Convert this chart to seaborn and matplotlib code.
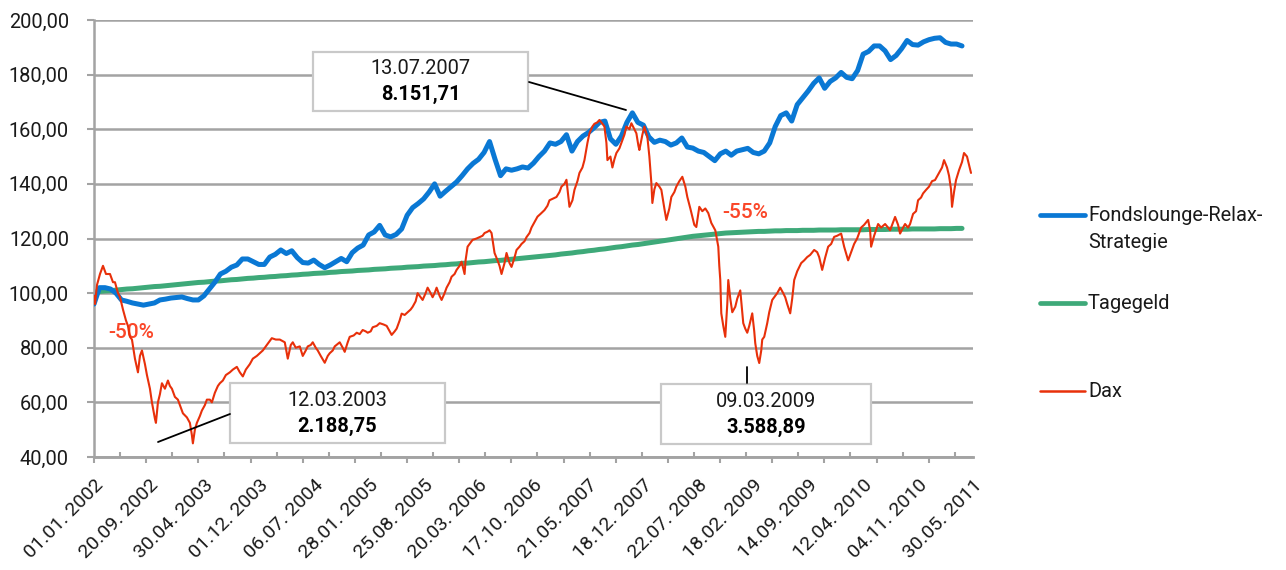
import numpy as np
import pandas as pd
import matplotlib
matplotlib.use("Agg")
import matplotlib.pyplot as plt
import seaborn as sns
from matplotlib.lines import Line2D
from matplotlib.patches import Rectangle

nan = np.nan

LABELS = ["01.01. 2002", "20.09. 2002", "30.04. 2003", "01.12. 2003", "06.07. 2004",
          "28.01. 2005", "25.08. 2005", "20.03. 2006", "17.10. 2006", "21.05. 2007",
          "18.12. 2007", "22.07. 2008", "18.02. 2009", "14.09. 2009", "12.04. 2010",
          "04.11. 2010", "30.05. 2011"]
N_OBS = 880          # observations along the category axis
LABEL_EVERY = 55     # observations between two date labels

# Dax: observation index and indexed value
DAX_OBS = [0, 1, 3, 6, 9, 12, 16, 19, 21, 24, 26, 29, 32, 34, 36, 38, 41, 44, 46, 48,
           51, 53, 56, 58, 61, 62, 64, 66, 68, 71, 74, 76, 78, 81, 84, 87, 89, 93, 96, 98,
           99, 101, 103, 106, 108, 111, 113, 116, 118, 121, 124, 126, 129, 132, 136, 139, 143, 146, 149, 152,
           156, 159, 163, 166, 169, 173, 178, 182, 186, 191, 194, 197, 199, 202, 206, 209, 212, 214, 217, 219,
           222, 224, 227, 231, 234, 236, 239, 241, 246, 249, 251, 254, 256, 260, 263, 266, 269, 272, 274, 277,
           279, 283, 286, 290, 293, 296, 298, 301, 303, 306, 308, 311, 314, 317, 319, 322, 324, 326, 329, 332,
           334, 337, 339, 341, 343, 346, 348, 351, 353, 356, 358, 361, 363, 366, 368, 371, 372, 374, 376, 379,
           383, 386, 389, 391, 394, 396, 398, 399, 401, 404, 406, 408, 411, 413, 416, 418, 421, 423, 426, 428,
           431, 433, 436, 438, 441, 444, 447, 451, 454, 456, 459, 463, 466, 468, 471, 473, 476, 479, 481, 484,
           486, 489, 491, 494, 496, 499, 501, 504, 506, 509, 511, 513, 514, 517, 519, 521, 523, 526, 528, 531,
           533, 536, 538, 541, 543, 545, 546, 549, 551, 554, 556, 558, 559, 561, 563, 566, 568, 571, 573, 576,
           578, 581, 583, 586, 589, 592, 594, 597, 599, 601, 603, 606, 609, 612, 615, 618, 622, 625, 626, 627,
           628, 630, 632, 634, 635, 637, 639, 642, 644, 647, 649, 650, 652, 654, 656, 659, 661, 662, 664, 666,
           668, 669, 671, 674, 676, 679, 682, 684, 687, 690, 692, 694, 697, 699, 701, 704, 708, 711, 714, 717,
           721, 724, 726, 729, 732, 735, 738, 741, 744, 748, 751, 755, 758, 761, 764, 768, 771, 775, 777, 778,
           781, 785, 788, 792, 795, 797, 799, 802, 805, 807, 810, 812, 815, 817, 820, 823, 825, 828, 830, 833,
           836, 839, 842, 846, 849, 851, 854, 856, 858, 859, 861, 863, 866, 869, 871, 874, 876, 878]
DAX_VAL = [99, 96, 103, 107, 110, 107, 107, 104, 104, 100, 98.6, 94, 90, 88, 84, 83, 76, 71, 77, 79,
           74, 70, 65, 60, 54, 52.5, 60, 63, 67, 65, 68, 66, 65, 62, 61, 58, 56, 54.5, 52.5, 48,
           45, 50, 52.5, 55, 57, 59, 61, 61, 60, 63.5, 66, 67, 68, 70, 71, 72, 73, 71, 69.5, 72,
           74, 76, 77, 78, 79, 81, 83.5, 83, 83, 82, 76, 81, 82, 80, 80.5, 77, 79, 80.5, 81, 82,
           80, 79, 77, 74.5, 77, 78, 79, 80.5, 82, 80, 78.5, 82, 84, 84.5, 85.5, 85, 86.5, 86, 85.5, 86,
           87.5, 88, 89, 88.5, 88, 86, 84.7, 86, 87, 90, 92.5, 92, 93, 94, 95, 97, 100, 99, 97.5, 100,
           102, 100, 98.5, 100, 102, 99, 97.5, 100, 102, 104, 106, 107, 108.5, 110, 111.5, 107, 112, 117, 118, 119.5,
           120, 120.5, 121, 122, 122.5, 123, 122, 119.5, 114.7, 112, 110, 107, 111, 114.7, 111, 109.6, 113, 115.8, 117, 118,
           119, 120.5, 122, 124, 126, 128, 129, 130.4, 132, 134, 134.5, 135.2, 137, 139, 140, 141.5, 131.6, 134, 137.8, 141,
           144, 146, 148.7, 155, 158.5, 161, 162, 162.5, 163.4, 162, 161, 155, 148.7, 150, 146, 149, 151.3, 153, 155, 158,
           161, 160, 162.2, 160, 158.5, 154, 152.4, 158, 161, 157.2, 150, 140.3, 133, 138, 140.3, 139, 137.8, 131, 126.8, 131,
           135.2, 137, 139, 141, 142.6, 139, 135.2, 131, 128, 125, 124.2, 131.6, 130, 131, 129.3, 125.7, 123, 117, 110, 104.8,
           92.6, 88, 84, 96, 104.8, 98, 93, 95, 98, 101, 93, 89, 87, 85.5, 88, 92.6, 86, 81.7, 77, 74.4,
           79, 83, 84, 89, 93, 97.5, 99, 100, 102, 100, 98.5, 96, 92.6, 98, 104.8, 108, 111, 112, 113.2, 114,
           115.8, 115, 113.2, 108.5, 113, 117, 118, 120.6, 121, 121.8, 117, 112, 115, 118, 120, 124, 125, 126.8, 123, 117,
           121, 125.3, 124, 125.3, 124, 123, 125, 127.9, 125, 121.8, 124, 125.3, 124, 125.3, 129, 130, 134, 135, 136.5, 137.8,
           139, 141, 141.4, 144, 146, 148.7, 146, 143, 138, 131.6, 137, 141.4, 145, 148, 151.3, 150, 147, 144]

# Fondslounge-Relax-Strategie and Tagegeld, read every 5.5 observations
FONDS = [96, 102, 102, 101.5, 100, 97.5, 97, 96.4, 96, 95.6,
         96, 96.4, 97.5, 97.8, 98.2, 98.4, 98.6, 98, 97.5, 97.5,
         99, 101.5, 104, 107, 108, 109.5, 110.3, 112.5, 112.5, 111.5,
         110.5, 110.5, 113.2, 114.2, 115.8, 114.5, 115.5, 113, 111.2, 111,
         112.1, 110.5, 109.3, 110.3, 111.5, 112.7, 111.5, 114.8, 116.5, 117.6,
         121.3, 122.4, 124.8, 121.3, 120.6, 121.5, 123.5, 128.5, 131.3, 132.8,
         134.5, 137, 140, 135.5, 137.3, 139, 140.7, 143, 145.5, 147.5,
         149, 151.5, 155.5, 149, 143, 145.5, 145, 145.5, 146.2, 145.8,
         147.6, 150, 152, 155, 154.5, 155.5, 158, 152, 155.5, 157.5,
         158.8, 160.5, 162.5, 163, 156.5, 154.5, 157.5, 162.5, 166, 162.5,
         161.5, 157.2, 155.2, 156, 155.5, 154.2, 155, 156.8, 153.5, 153.1,
         152, 151.5, 150, 148.5, 151, 152, 150.5, 152, 152.5, 153,
         151.5, 151, 152, 155, 161, 165, 166, 163, 169, 171.5,
         174, 176.8, 178.8, 175, 177.5, 178.8, 180.8, 179, 178.5, 181.5,
         187.5, 188.5, 190.5, 190.5, 188.7, 185.5, 187, 189.5, 192.5, 191,
         190.8, 192, 192.8, 193.3, 193.5, 191.8, 191.2, 191.2, 190.5, nan,
         nan]

TAGEGELD = [100.4, 100.6, 100.8, 100.9, 101.1, 101.3, 101.5, 101.6, 101.8, 102.0,
            102.2, 102.4, 102.5, 102.7, 102.9, 103.1, 103.3, 103.5, 103.7, 103.9,
            104.0, 104.2, 104.4, 104.5, 104.7, 104.9, 105.0, 105.2, 105.4, 105.5,
            105.7, 105.8, 106.0, 106.1, 106.3, 106.4, 106.6, 106.7, 106.9, 107.0,
            107.2, 107.3, 107.4, 107.6, 107.7, 107.9, 108.0, 108.1, 108.3, 108.4,
            108.5, 108.7, 108.8, 108.9, 109.1, 109.2, 109.3, 109.5, 109.6, 109.7,
            109.9, 110.0, 110.1, 110.3, 110.4, 110.6, 110.7, 110.9, 111.0, 111.2,
            111.4, 111.5, 111.7, 111.9, 112.0, 112.2, 112.4, 112.6, 112.8, 113.0,
            113.2, 113.4, 113.6, 113.8, 114.0, 114.3, 114.5, 114.7, 115.0, 115.2,
            115.5, 115.7, 116.0, 116.2, 116.5, 116.8, 117.0, 117.3, 117.6, 117.8,
            118.1, 118.4, 118.7, 119.0, 119.3, 119.6, 119.9, 120.2, 120.5, 120.8,
            121.0, 121.2, 121.4, 121.6, 121.8, 122.0, 122.1, 122.2, 122.3, 122.4,
            122.5, 122.6, 122.6, 122.7, 122.8, 122.8, 122.9, 122.9, 122.9, 123.0,
            123.0, 123.0, 123.1, 123.1, 123.1, 123.1, 123.2, 123.2, 123.2, 123.2,
            123.2, 123.3, 123.3, 123.3, 123.3, 123.4, 123.4, 123.4, 123.4, 123.5,
            123.5, 123.5, 123.5, 123.5, 123.6, 123.6, 123.6, 123.7, 123.7, nan,
            nan]

# annotation values
PEAK_DATE, PEAK_VAL = "13.07.2007", "8.151,71"
LOW1_DATE, LOW1_VAL = "12.03.2003", "2.188,75"
LOW2_DATE, LOW2_VAL = "09.03.2009", "3.588,89"
DRAW1, DRAW2 = "-50%", "-55%"

SERIES = ["Fondslounge-Relax-\nStrategie", "Tagegeld", "Dax"]

BLUE = "#0a78d4"
GREEN = "#3ea979"
RED = "#e8300a"
TXTRED = "#fa4628"
GRID = "#a3a3a3"
TXT = "#1a1a1a"

sns.set_theme(style="white")
plt.rcParams["font.family"] = ["Roboto", "DejaVu Sans"]

W, H = 1286, 570
fig = plt.figure(figsize=(W / 100, H / 100), dpi=100)
ax = fig.add_axes([94 / W, 1 - 457 / H, (973 - 94) / W, (457 - 20) / H])

grid_step = N_OBS / (len(FONDS) - 1)
df = pd.DataFrame({"obs": np.arange(len(FONDS)) * grid_step,
                   "fonds": FONDS, "tagegeld": TAGEGELD})
dax = pd.DataFrame({"obs": DAX_OBS, "dax": DAX_VAL})

sns.lineplot(data=df, x="obs", y="tagegeld", color=GREEN, linewidth=3.6, ax=ax, zorder=2)
sns.lineplot(data=df, x="obs", y="fonds", color=BLUE, linewidth=3.6, ax=ax, zorder=3)
sns.lineplot(data=dax, x="obs", y="dax", color=RED, linewidth=1.5, ax=ax, zorder=4)

ax.set_xlim(0, N_OBS)
ax.set_ylim(40, 200)
ax.set_xlabel("")
ax.set_ylabel("")

yt = np.arange(40, 201, 20)
ax.set_yticks(yt, [f"{v:.2f}".replace(".", ",") for v in yt])
ax.tick_params(axis="y", which="major", direction="out", length=5, width=1.5,
               color=GRID, pad=13, labelsize=14.4, labelcolor=TXT, left=True)
ax.yaxis.grid(True, color=GRID, linewidth=1.8)
ax.xaxis.grid(False)
ax.set_axisbelow(True)
for s in ["top", "right"]:
    ax.spines[s].set_visible(False)
for s in ["left", "bottom"]:
    ax.spines[s].set_color(GRID)
    ax.spines[s].set_linewidth(1.8)

ax.set_xticks(np.arange(len(LABELS)) * LABEL_EVERY, LABELS)
for lbl in ax.get_xticklabels():
    lbl.set_rotation(45)
    lbl.set_ha("right")
    lbl.set_va("top")
    lbl.set_rotation_mode("anchor")
ax.tick_params(axis="x", which="major", length=0, pad=14, labelsize=14, labelcolor=TXT)
ax.xaxis.remove_overlapping_locs = False
tick_sp = 52.23
ax.set_xticks(np.arange(0, N_OBS, tick_sp), minor=True)
ax.tick_params(axis="x", which="minor", direction="out", length=4, width=1.5,
               color=GRID, bottom=True)
sec = ax.secondary_xaxis("bottom")
sec.set_xticks(np.arange(tick_sp / 2, N_OBS, tick_sp))
sec.tick_params(direction="in", length=3.5, width=1.5, color=GRID, labelbottom=False)
sec.spines["bottom"].set_color(GRID)
sec.spines["bottom"].set_linewidth(1.8)


def px2d(px, py):
    return (px - 94) * N_OBS / 879, 200 - (py - 20) * 160 / 437


def box(x0, y0, x1, y1, top, bottom):
    u0, v1 = px2d(x0, y0)
    u1, v0 = px2d(x1, y1)
    ax.add_patch(Rectangle((u0, v0), u1 - u0, v1 - v0, facecolor="white",
                           edgecolor="#c9c9c9", linewidth=1.6, zorder=6, clip_on=False))
    cx = (u0 + u1) / 2
    ym = (v0 + v1) / 2
    dv = 13 * 160 / 437
    ax.text(cx, ym + dv, top, ha="center", va="center", fontsize=14.4,
            color=TXT, zorder=7)
    ax.text(cx, ym - dv, bottom, ha="center", va="center", fontsize=14.4,
            fontweight="bold", color="black", zorder=7)


def seg(p0, p1):
    a = px2d(*p0)
    b = px2d(*p1)
    ax.annotate("", xy=b, xytext=a, arrowprops=dict(arrowstyle="-", color="black",
                lw=1.3, shrinkA=0, shrinkB=0), zorder=6, annotation_clip=False)


box(313, 52, 528, 111, PEAK_DATE, PEAK_VAL)
seg((529, 82), (626, 110))
box(230, 383, 445, 443, LOW1_DATE, LOW1_VAL)
seg((158, 442), (230, 414))
box(661, 384, 871, 444, LOW2_DATE, LOW2_VAL)
seg((747, 367), (747, 383))

ax.text(*px2d(131, 332), DRAW1, ha="center", va="center", fontsize=15,
        fontweight="medium", color=TXTRED, zorder=1)
ax.text(*px2d(745, 212), DRAW2, ha="center", va="center", fontsize=15,
        fontweight="medium", color=TXTRED, zorder=1)

# legend
for (yl, col, lw), name, yt_ in zip([(215, BLUE, 3.4), (303, GREEN, 3.4), (391, RED, 1.8)],
                                    SERIES, [206, 294, 382]):
    fig.add_artist(Line2D([1040 / W, 1085 / W], [1 - yl / H, 1 - yl / H], color=col,
                          linewidth=lw, solid_capstyle="round"))
    fig.text(1088 / W, 1 - yt_ / H, name, ha="left", va="top", fontsize=14.4,
             color=TXT, linespacing=1.5)

fig.savefig("out.png", dpi=100)
